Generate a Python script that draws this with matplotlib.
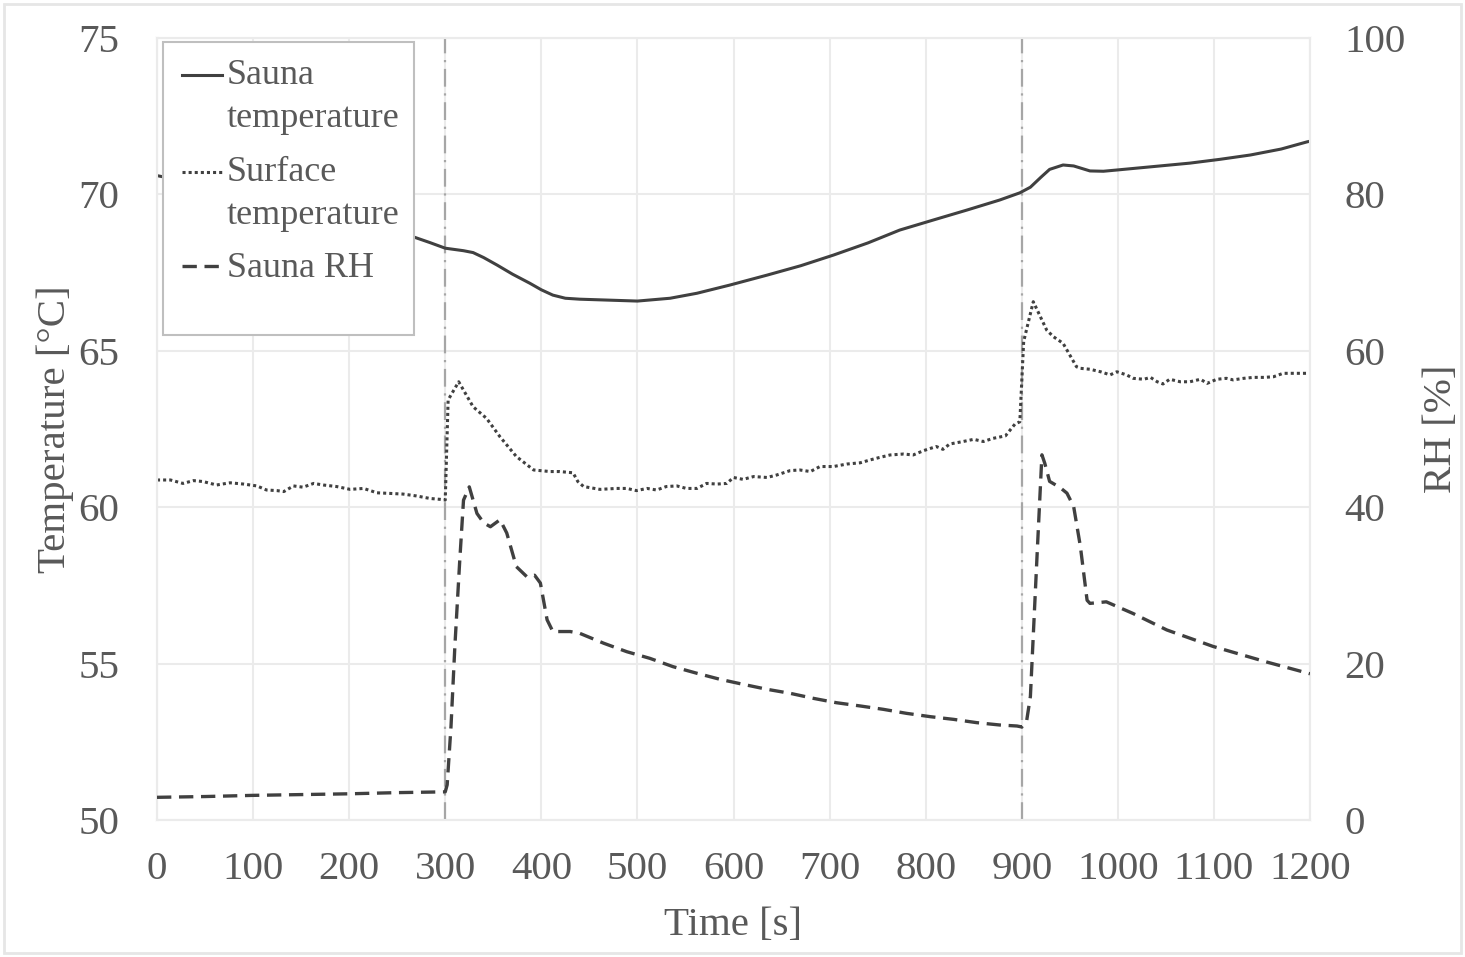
import numpy as np
import matplotlib
matplotlib.use("Agg")
import matplotlib.pyplot as plt
from matplotlib.legend_handler import HandlerLine2D
from matplotlib.patches import Rectangle

# ---- measured series ----------------------------------------------------
# Sauna air temperature [°C]
sauna_time = [0, 50, 100, 150, 200, 240, 268, 284, 300, 319, 329, 340, 354,
              370, 388, 400, 412, 425, 440, 470, 500, 534, 562, 596, 635,
              670, 704, 740, 773, 810, 843, 877, 898, 909, 920, 929, 943,
              954, 971, 985, 999, 1044, 1075, 1106, 1138, 1170, 1197, 1200]
sauna_temp = [70.6, 70.3, 69.95, 69.6, 69.2, 68.9, 68.63, 68.46, 68.28, 68.2,
              68.14, 67.98, 67.74, 67.45, 67.16, 66.95, 66.78, 66.68, 66.65,
              66.62, 66.59, 66.68, 66.84, 67.1, 67.42, 67.72, 68.06, 68.45,
              68.86, 69.2, 69.5, 69.82, 70.05, 70.23, 70.55, 70.8, 70.94,
              70.91, 70.75, 70.74, 70.78, 70.91, 71.0, 71.12, 71.26, 71.45,
              71.68, 71.7]

# Surface temperature [°C]
surface_time = [0, 14, 27, 38, 48, 62, 76, 90, 104, 114, 125, 132, 142, 152,
                163, 173, 187, 201, 215, 229, 243, 256, 270, 284, 295, 300,
                303, 314, 329, 343, 357, 374, 392, 409, 419, 433, 438, 444,
                461, 478, 489, 499, 510, 520, 530, 541, 551, 562, 572, 583,
                593, 600, 610, 621, 635, 645, 659, 669, 680, 690, 704, 718,
                732, 742, 752, 763, 777, 787, 798, 811, 818, 825, 839, 850,
                860, 870, 883, 888, 893, 898, 902, 912, 926, 933, 943, 957,
                961, 971, 982, 992, 999, 1009, 1016, 1027, 1034, 1041, 1047,
                1054, 1065, 1075, 1086, 1093, 1103, 1113, 1120, 1131, 1141,
                1152, 1162, 1172, 1183, 1197, 1200]
surface_temp = [60.87, 60.87, 60.76, 60.85, 60.82, 60.71, 60.78, 60.74, 60.68,
                60.55, 60.53, 60.50, 60.68, 60.64, 60.76, 60.71, 60.66, 60.57,
                60.60, 60.46, 60.44, 60.42, 60.36, 60.28, 60.25, 60.23,
                63.43, 64.01, 63.21, 62.84, 62.25, 61.62, 61.19, 61.14, 61.14,
                61.10, 60.82, 60.66, 60.57, 60.60, 60.60, 60.53, 60.60, 60.55,
                60.66, 60.68, 60.60, 60.60, 60.76, 60.74, 60.76, 60.95, 60.89,
                60.98, 60.95, 61.03, 61.17, 61.19, 61.14, 61.30, 61.30, 61.38,
                61.42, 61.51, 61.59, 61.67, 61.70, 61.67, 61.81, 61.94, 61.85,
                62.02, 62.10, 62.17, 62.10, 62.20, 62.28, 62.47, 62.66, 62.73,
                65.30, 66.57, 65.66, 65.45, 65.24, 64.49, 64.44, 64.41, 64.33,
                64.23, 64.33, 64.23, 64.12, 64.09, 64.15, 64.01, 63.94, 64.09,
                64.01, 64.01, 64.09, 63.96, 64.09, 64.12, 64.07, 64.12, 64.15,
                64.15, 64.17, 64.28, 64.28, 64.28, 64.28]

# Sauna relative humidity [%]
rh_time = [0, 50, 100, 150, 200, 250, 300, 302, 306, 310, 315, 319, 325, 333,
           340, 347, 357, 364, 374, 385, 393, 399, 406, 412, 430, 440, 465,
           489, 513, 537, 562, 586, 610, 635, 659, 683, 707, 732, 756, 780,
           805, 829, 853, 877, 895, 900, 905, 909, 916, 921, 924, 929, 940,
           947, 954, 961, 968, 971, 988, 1016, 1051, 1099, 1155, 1197, 1200]
rh_value = [2.9, 3.0, 3.15, 3.25, 3.35, 3.5, 3.6, 4.5, 12.0, 22.2, 33.0, 40.9,
            42.6, 39.2, 38.0, 37.5, 38.4, 36.7, 32.4, 31.1, 31.3, 30.3, 25.6,
            24.1, 24.1, 23.87, 22.6, 21.52, 20.67, 19.61, 18.76, 17.99,
            17.35, 16.71, 16.2, 15.56, 15.0, 14.58, 14.15, 13.64, 13.21,
            12.87, 12.45, 12.15, 12.02, 11.9, 12.6, 15.8, 34.0, 46.7, 45.6,
            43.3, 42.5, 41.8, 40.1, 35.0, 28.1, 27.7, 27.9, 26.4, 24.3, 22.2,
            20.2, 18.8, 18.7]

# Water thrown on the stove
event_times = [300, 900]

time_ticks = list(range(0, 1201, 100))
temp_ticks = [50, 55, 60, 65, 70, 75]
rh_ticks = [0, 20, 40, 60, 80, 100]

# ---- styling ------------------------------------------------------------
TEXT = "#595959"
LINE = "#404040"
GRID = "#ebebeb"
EVENT = "#a6a6a6"
plt.rcParams["font.family"] = ["Liberation Serif", "DejaVu Serif"]

W, H = 1465, 957
fig = plt.figure(figsize=(W / 100, H / 100), dpi=100)
fig.patch.set_facecolor("white")
ax = fig.add_axes([157 / W, 1 - 820 / H, 1153 / W, 782 / H])
ax2 = ax.twinx()

ax.set_xlim(0, 1200)
ax.set_ylim(50, 75)
ax2.set_ylim(0, 100)
ax.set_xticks(time_ticks)
ax.set_yticks(temp_ticks)
ax2.set_yticks(rh_ticks)

for a in (ax, ax2):
    for s in a.spines.values():
        s.set_color(GRID)
        s.set_linewidth(1.5)
    a.tick_params(length=0, colors=TEXT, labelsize=29.5)
ax.tick_params(axis="y", pad=27)
ax.tick_params(axis="x", pad=22)
ax2.tick_params(axis="y", pad=25)

ax.grid(True, color=GRID, linewidth=1.5)
ax.set_axisbelow(True)

for e in event_times:
    ax.axvline(e, color=EVENT, linewidth=1.6, linestyle=(0, (8, 3, 1, 3)),
               zorder=1.5)

l1, = ax.plot(sauna_time, sauna_temp, color=LINE, linewidth=2.2,
              label="Sauna\ntemperature", zorder=3)
l2, = ax.plot(surface_time, surface_temp, color=LINE, linewidth=2.2,
              linestyle=(0, (1, 1)), label="Surface\ntemperature", zorder=3)
l3, = ax2.plot(rh_time, rh_value, color=LINE, linewidth=2.4,
               linestyle=(0, (4.3, 2.3)), label="Sauna RH", zorder=3)

ax.set_xlabel("Time [s]", fontsize=29.5, color=TEXT, va="center")
ax.xaxis.set_label_coords(0.5, (820 - 925) / 782)
ax.set_ylabel("Temperature [°C]", fontsize=29.5, color=TEXT, va="center")
ax.yaxis.set_label_coords((55 - 157) / 1153, 0.5)
ax2.set_ylabel("RH [%]", fontsize=29.5, color=TEXT, va="center", rotation=90)
ax2.yaxis.set_label_coords((1442 - 157) / 1153, 0.5)


class RaisedLine(HandlerLine2D):
    """Legend line drawn level with the first line of a wrapped label."""

    def __init__(self, lift=0.0, **kw):
        super().__init__(**kw)
        self.lift = lift

    def create_artists(self, legend, orig_handle, xdescent, ydescent,
                       width, height, fontsize, trans):
        arts = super().create_artists(legend, orig_handle, xdescent,
                                      ydescent, width, height, fontsize,
                                      trans)
        for a in arts:
            a.set_ydata(np.asarray(a.get_ydata()) + self.lift * fontsize)
        return arts


frame = Rectangle((6 / 1153, (820 - 335) / 782), 251 / 1153, 293 / 782,
                  transform=ax2.transAxes, facecolor="white",
                  edgecolor="#bfbfbf", linewidth=1.5, zorder=4,
                  clip_on=False)
ax2.add_patch(frame)

leg = ax2.legend(handles=[l1, l2, l3], loc="upper left",
                 bbox_to_anchor=((182 - 157) / 1153, (820 - 59) / 782),
                 frameon=False, fontsize=26, handlelength=1.1,
                 handletextpad=0.14, labelspacing=0.555, borderpad=0,
                 borderaxespad=0, labelcolor=TEXT,
                 handler_map={l1: RaisedLine(lift=0.6),
                              l2: RaisedLine(lift=0.6),
                              l3: RaisedLine(lift=-0.04)})
leg.set_zorder(5)
for t in leg.get_texts():
    t.set_linespacing(1.42)

# light outer border of the figure
fig.add_artist(Rectangle((4 / W, 4 / H), (W - 8) / W, (H - 8) / H,
                         transform=fig.transFigure, fill=False,
                         edgecolor="#e6e6e6", linewidth=2))

fig.savefig("out.png", dpi=100, facecolor="white")
